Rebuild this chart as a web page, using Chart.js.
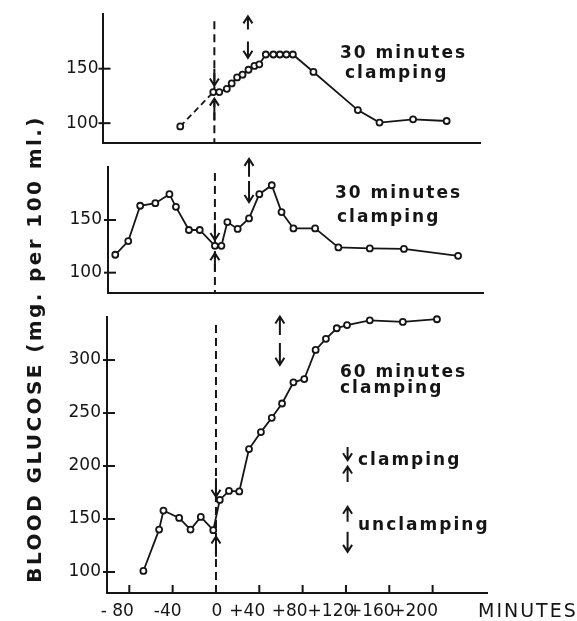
<!DOCTYPE html>
<html>
<head>
<meta charset="utf-8">
<script src="https://cdn.jsdelivr.net/npm/chart.js@4.4.1/dist/chart.umd.min.js"></script>
<style>
  body { margin: 0; background: #fff; }
  #wrap { position: relative; width: 577px; height: 621px; }
  canvas { position: absolute; left: 0; top: 0; }
</style>
</head>
<body>
<div id="wrap">
  <canvas id="c1" width="577" height="621"></canvas>
  <canvas id="c2" width="577" height="621"></canvas>
  <canvas id="c3" width="577" height="621"></canvas>
</div>
<script>
// minutes from clamping / blood glucose (mg. per 100 ml.)
const minutes1 = [-33, -2.5, 3, 10, 14.5, 19.5, 24.5, 30, 35.5, 40, 46, 53, 59, 65, 71, 90, 131, 151, 182, 213];
const glucose1 = [97, 128.5, 128.5, 131.5, 136.5, 142, 144.5, 149, 152.5, 154, 163, 163, 163, 163, 163, 147, 112, 100.5, 103.5, 102];

const minutes2 = [-93, -81, -70, -56, -43, -37, -25, -15, -1, 5, 10.5, 20, 30.5, 40, 51.5, 60.5, 71.5, 91.5, 113, 142, 173.5, 223.5];
const glucose2 = [117, 130, 163.5, 166, 174.5, 162.5, 140.5, 140.5, 125.5, 125.5, 148, 141.5, 151.5, 174.5, 183, 157.5, 142, 142, 124, 123, 122.5, 116];

const minutes3 = [-67, -52.5, -48.5, -34, -23.5, -14, -2.5, 3.5, 12, 21.5, 30.5, 41.5, 51.5, 61, 71.5, 81.5, 92, 101.5, 111.5, 121, 142, 172.5, 204];
const glucose3 = [101, 140, 158, 151, 140, 152, 139.5, 168, 176.5, 176, 216, 232, 245.5, 259, 279, 282, 309.5, 320, 330, 333, 337.5, 336, 338.5];

const yTicksSmall = [100, 150];
const yTicksBig = [100, 150, 200, 250, 300];
const xTicks = [-80, -40, 0, 40, 80, 120, 160, 200];
const xTickLabels = ['- 80', '-40', '0', '+40', '+80', '+120', '+160', '+200'];

// clamp / unclamp markers: [minute, tail, tip]
const arrows1 = [[-1.5, 150, 134.5], [-1.5, 102.5, 122.5], [29.5, 186, 198], [29.5, 175, 160]];
const arrows2 = [[-1, 147, 131], [-1, 101, 118.5], [30.5, 191, 208], [30.5, 187, 167]];
const arrows3 = [[0, 188.5, 171], [0, 114.5, 133.5], [59, 323.5, 341], [59, 316, 295.5],
                 [121.5, 218, 205.5], [121.5, 185, 199.5], [121.5, 147.5, 161.5], [121.5, 138, 119]];

const INK = '#151515';
const FONT = '"DejaVu Sans", sans-serif';
// the printed x labels sit a bit left of their ticks, unevenly
const xLabelShift = [-12, -5, 1, -12, -13, -15, -18, -18];

function arrow(ctx, x, y0, y1) {
  const d = y1 > y0 ? 1 : -1;
  ctx.beginPath();
  ctx.moveTo(x, y0); ctx.lineTo(x, y1);
  ctx.moveTo(x - 4.5, y1 - d * 7); ctx.lineTo(x, y1); ctx.lineTo(x + 4.5, y1 - d * 7);
  ctx.stroke();
}

function text(ctx, s, x, y, font, sp) {
  ctx.font = font;
  ctx.letterSpacing = (sp || 2) + 'px';
  ctx.fillText(s, x, y);
  ctx.letterSpacing = '0px';
}

function marks(o) {
  return {
    id: 'marks',
    beforeDraw(chart) {
      if (!o.bottom) return;
      const items = chart.scales.x.getLabelItems();
      if (items._shifted) return;
      items.forEach((it, i) => { it.options.translation[0] += xLabelShift[i] || 0; });
      items._shifted = true;
    },
    afterDraw(chart) {
      const { ctx, chartArea: a, scales: { x, y } } = chart;
      ctx.save();
      ctx.strokeStyle = INK; ctx.fillStyle = INK; ctx.lineWidth = 2;
      // tick marks crossing the y axis
      for (const v of o.yTicks) {
        const py = y.getPixelForValue(v);
        ctx.beginPath(); ctx.moveTo(a.left - 4, py); ctx.lineTo(a.left + 8, py); ctx.stroke();
      }
      if (o.bottom) {
        for (const v of xTicks) {
          const px = x.getPixelForValue(v);
          ctx.beginPath(); ctx.moveTo(px, a.bottom); ctx.lineTo(px, a.bottom - 8); ctx.stroke();
        }
      }
      for (const [t, v0, v1] of o.arrows) {
        arrow(ctx, x.getPixelForValue(t), y.getPixelForValue(v0), y.getPixelForValue(v1));
      }
      ctx.textAlign = 'left'; ctx.textBaseline = 'alphabetic';
      for (const [s, tx, ty] of o.texts) text(ctx, s, tx, ty, 'bold 17px ' + FONT);
      if (o.bottom) {
        text(ctx, 'MINUTES', 478, 617, '19px ' + FONT);
        ctx.save();
        ctx.translate(36, 349);
        ctx.rotate(-Math.PI / 2);
        ctx.textAlign = 'center'; ctx.textBaseline = 'middle';
        text(ctx, 'BLOOD GLUCOSE (mg. per 100 ml.)', 0, 0, 'bold 20px ' + FONT, 2.4);
        ctx.restore();
      }
      ctx.restore();
    }
  };
}

function panel(id, o) {
  const pts = o.minutes.map((m, i) => ({ x: m, y: o.glucose[i] }));
  const xScale = {
    type: 'linear', min: o.xmin, max: o.xmax,
    border: { color: INK, width: 2 },
    grid: { display: false, drawTicks: false },
    ticks: { display: false },
    afterFit: s => { s.height = 0; }
  };
  if (o.bottom) {
    xScale.afterBuildTicks = s => { s.ticks = xTicks.map(v => ({ value: v })); };
    xScale.afterFit = s => { s.height = 28; };
    xScale.ticks = {
      display: true, color: INK, font: { family: FONT, size: 17 }, padding: 8,
      autoSkip: false, maxRotation: 0, minRotation: 0,
      callback: v => xTickLabels[xTicks.indexOf(v)]
    };
  }
  return new Chart(document.getElementById(id), {
    type: 'line',
    data: {
      datasets: [{
        data: pts, borderColor: INK, borderWidth: 1.8, tension: 0, clip: false,
        pointRadius: 3, pointBorderWidth: 1.8, pointBackgroundColor: '#fff', pointBorderColor: INK,
        segment: { borderDash: c => (o.dashFirst && c.p0DataIndex === 0) ? [6, 4] : undefined }
      }, {
        data: [{ x: o.zero, y: o.dashTop }, { x: o.zero, y: o.ymin }],
        borderColor: INK, borderWidth: 2, borderDash: [8, 5], pointRadius: 0
      }]
    },
    options: {
      responsive: false, animation: false,
      layout: { padding: o.pad },
      plugins: { legend: { display: false }, tooltip: { enabled: false } },
      scales: {
        x: xScale,
        y: {
          min: o.ymin, max: o.ymax,
          afterBuildTicks: s => { s.ticks = o.yTicks.map(v => ({ value: v })); },
          afterFit: s => { s.width = 60; },
          border: { color: INK, width: 2 },
          grid: { display: false, drawTicks: false },
          ticks: { color: INK, font: { family: FONT, size: 17 }, padding: o.labelPad }
        }
      }
    },
    plugins: [marks(o)]
  });
}

panel('c1', {
  minutes: minutes1, glucose: glucose1, dashFirst: true,
  xmin: -104.8, xmax: 243.8, ymin: 81.8, ymax: 200, yTicks: yTicksSmall,
  zero: -1.5, dashTop: 193.5, labelPad: 4,
  pad: { left: 42.5, right: 97, top: 13, bottom: 478 },
  arrows: arrows1,
  texts: [['30 minutes', 340, 57.5], ['clamping', 345, 78]]
});
panel('c2', {
  minutes: minutes2, glucose: glucose2,
  xmin: -99.7, xmax: 246.5, ymin: 80.7, ymax: 200.3, yTicks: yTicksSmall,
  zero: -1, dashTop: 194.5, labelPad: 6,
  pad: { left: 48, right: 94, top: 167, bottom: 328 },
  arrows: arrows2,
  texts: [['30 minutes', 335, 198], ['clamping', 337, 221.5]]
});
panel('c3', {
  minutes: minutes3, glucose: glucose3, bottom: true,
  xmin: -100.6, xmax: 250.2, ymin: 80.2, ymax: 340.6, yTicks: yTicksBig,
  zero: 0, dashTop: 333, labelPad: 6,
  pad: { left: 47, right: 90, top: 317, bottom: 0 },
  arrows: arrows3,
  texts: [['60 minutes', 340, 377], ['clamping', 340, 393], ['clamping', 358, 465], ['unclamping', 358, 530]]
});
</script>
</body>
</html>
